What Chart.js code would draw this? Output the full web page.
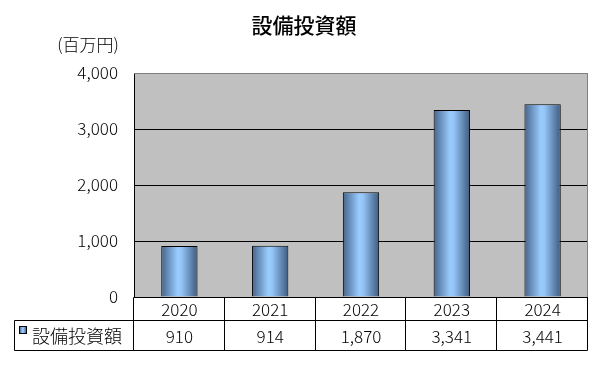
<!DOCTYPE html>
<html><head><meta charset="utf-8">
<script src="https://cdn.jsdelivr.net/npm/chart.js@4"></script>
<style>html,body{margin:0;padding:0;background:#fff}#wrap{width:603px;height:367px}</style>
</head><body><div id="wrap"><canvas id="c" width="603" height="367"></canvas></div>
<script>
const chartTitle = '設備投資額';
const unitLabel = '(百万円)';
const seriesName = '設備投資額';
const years = ['2020', '2021', '2022', '2023', '2024'];
const values = [910, 914, 1870, 3341, 3441];
const yTicks = [0, 1000, 2000, 3000, 4000];

const FONT = "'Noto Sans CJK JP', 'Noto Sans', sans-serif";
const fmt = v => v.toLocaleString('en-US');

function barGradient(ctx, x0, x1) {
  const g = ctx.createLinearGradient(x0, 0, x1, 0);
  g.addColorStop(0, '#45648a');
  g.addColorStop(0.45, '#99ccff');
  g.addColorStop(0.55, '#95c6f8');
  g.addColorStop(1, '#3d5a7e');
  return g;
}

const framePlugin = {
  id: 'frame',
  beforeDraw(chart) {
    const {ctx, chartArea: a} = chart;
    ctx.save();
    ctx.fillStyle = '#c0c0c0';
    ctx.fillRect(a.left, a.top, a.right - a.left, a.bottom - a.top);
    ctx.restore();
  },
  afterDraw(chart) {
    const {ctx, chartArea: a} = chart;
    const xs = chart.scales.x;
    ctx.save();
    ctx.strokeStyle = '#808080';
    ctx.lineWidth = 1;
    ctx.beginPath();
    ctx.moveTo(a.left, a.top + 0.5);
    ctx.lineTo(a.right - 0.5, a.top + 0.5);
    ctx.lineTo(a.right - 0.5, a.bottom);
    ctx.stroke();
    ctx.fillStyle = '#000';
    ctx.textAlign = 'center';
    ctx.textBaseline = 'middle';
    ctx.font = '500 21px ' + FONT;
    ctx.fillText(chartTitle, 304, 25);
    ctx.font = '300 17px ' + FONT;
    ctx.fillText(unitLabel, 88, 45);

    const top = Math.round(a.bottom) + 0.5;
    const mid = top + 23;
    const bot = top + 53;
    const tl = 14.5;
    const L = Math.round(a.left) - 0.5;
    const R = Math.round(a.right) - 0.5;
    ctx.strokeStyle = '#000';
    ctx.beginPath();
    ctx.moveTo(L, top); ctx.lineTo(R, top);
    ctx.moveTo(tl, mid); ctx.lineTo(R, mid);
    ctx.moveTo(tl, bot); ctx.lineTo(R, bot);
    ctx.moveTo(tl, mid); ctx.lineTo(tl, bot);
    ctx.moveTo(L, top); ctx.lineTo(L, bot);
    ctx.moveTo(R, top); ctx.lineTo(R, bot);
    const n = years.length;
    const step = (a.right - a.left) / n;
    for (let i = 1; i < n; i++) {
      const x = Math.round(xs.getPixelForValue(i) - step / 2) - 0.5;
      ctx.moveTo(x, top); ctx.lineTo(x, bot);
    }
    ctx.stroke();
    ctx.font = '300 17px ' + FONT;
    ctx.textAlign = 'center';
    for (let i = 0; i < n; i++) {
      const cx = xs.getPixelForValue(i);
      ctx.fillText(years[i], cx, (top + mid) / 2 + 1);
      ctx.fillText(fmt(values[i]), cx, (mid + bot) / 2 + 1);
    }
    ctx.fillStyle = barGradient(ctx, 19.5, 26.5);
    ctx.fillRect(19.5, 326.5, 7, 7);
    ctx.strokeRect(19.5, 326.5, 7, 7);
    ctx.fillStyle = '#000';
    ctx.textAlign = 'left';
    ctx.font = '300 18px ' + FONT;
    ctx.fillText(seriesName, 32, (mid + bot) / 2 + 1);
    ctx.restore();
  }
};

new Chart(document.getElementById('c'), {
  type: 'bar',
  data: {
    labels: years,
    datasets: [{
      label: seriesName,
      data: values,
      backgroundColor(c) {
        const chart = c.chart;
        const xs = chart.scales.x;
        if (!chart.chartArea || !xs || c.dataIndex === undefined) return '#99ccff';
        const step = (chart.chartArea.right - chart.chartArea.left) / years.length;
        const cx = xs.getPixelForValue(c.dataIndex);
        const w = step * 0.4;
        return barGradient(chart.ctx, cx - w / 2, cx + w / 2);
      },
      borderColor: '#000',
      borderWidth: 1,
      borderSkipped: 'bottom',
      categoryPercentage: 1,
      barPercentage: 0.4
    }]
  },
  options: {
    responsive: false,
    animation: false,
    devicePixelRatio: 1,
    layout: {padding: {left: 0, right: 15, top: 73, bottom: 70}},
    plugins: {legend: {display: false}, title: {display: false}, tooltip: {enabled: false}},
    scales: {
      x: {display: false},
      y: {
        min: 0, max: 4000,
        afterFit(s) { s.width = 134; },
        afterBuildTicks(s) { s.ticks = yTicks.map(v => ({value: v})); },
        ticks: {
          padding: 16,
          color: '#000',
          font: {family: FONT, size: 17, weight: '300'},
          callback: v => fmt(v)
        },
        grid: {
          drawTicks: false,
          color: c => (c.tick && c.tick.value === 4000) ? 'rgba(0,0,0,0)' : '#000',
          lineWidth: 1
        },
        border: {display: true, color: '#000', width: 1}
      }
    }
  },
  plugins: [framePlugin]
});
</script></body></html>
